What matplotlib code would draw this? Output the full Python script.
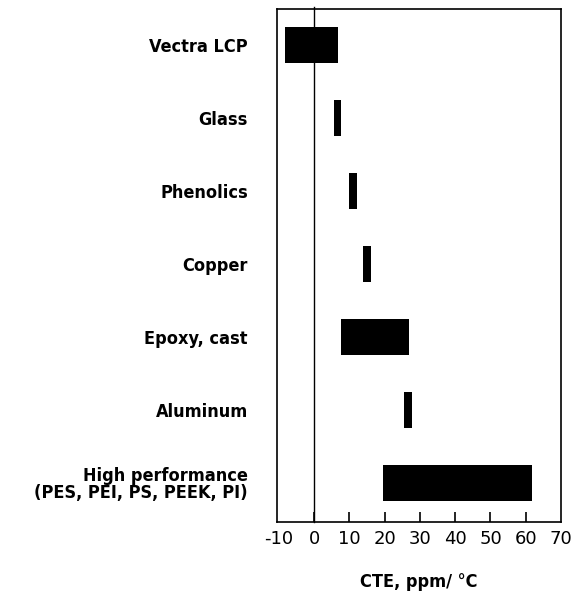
import matplotlib
matplotlib.use("Agg")
import matplotlib.pyplot as plt

materials = ["Vectra LCP", "Glass", "Phenolics", "Copper", "Epoxy, cast",
             "Aluminum", "High performance\n(PES, PEI, PS, PEEK, PI)"]
cte_low = [-8.3, 5.6, 9.9, 13.8, 7.6, 25.4, 19.5]
cte_high = [6.7, 7.6, 12.1, 16.0, 26.8, 27.7, 61.8]
xticks = [-10, 0, 10, 20, 30, 40, 50, 60, 70]
xlabel = "CTE, ppm/ °C"

plt.rcParams['font.family'] = ['DejaVu Sans']

fig = plt.figure(figsize=(5.81, 5.93), dpi=100)
ax = fig.add_axes([0.4768, 0.1197, 0.4888, 0.8643])

ypos = list(range(len(materials)))
widths = [h - l for l, h in zip(cte_low, cte_high)]
ax.barh(ypos, widths, left=cte_low, height=0.49, color="black")

ax.set_xlim(-10.5, 70)
ax.set_ylim(6.534, -0.486)
ax.axvline(0, color="black", lw=1.0, ymin=0, ymax=1.005, clip_on=False)

ax.set_xticks(xticks)
ax.set_xticklabels([str(t) for t in xticks], fontsize=13)
ax.tick_params(axis="x", direction="in", length=7, width=1.2, pad=6)
ticks = ax.xaxis.get_major_ticks()
ticks[0].tick1line.set_visible(False)
ticks[-1].tick1line.set_visible(False)

ax.set_yticks(ypos)
ax.set_yticklabels(materials, fontsize=13, fontweight="semibold",
                   fontstretch="condensed", linespacing=0.9)
ax.tick_params(axis="y", length=0, pad=21)

ax.set_xlabel(xlabel, fontsize=13, fontweight="semibold",
              fontstretch="condensed", labelpad=18)
for s in ax.spines.values():
    s.set_linewidth(1.2)

fig.savefig("out.png", dpi=100)
